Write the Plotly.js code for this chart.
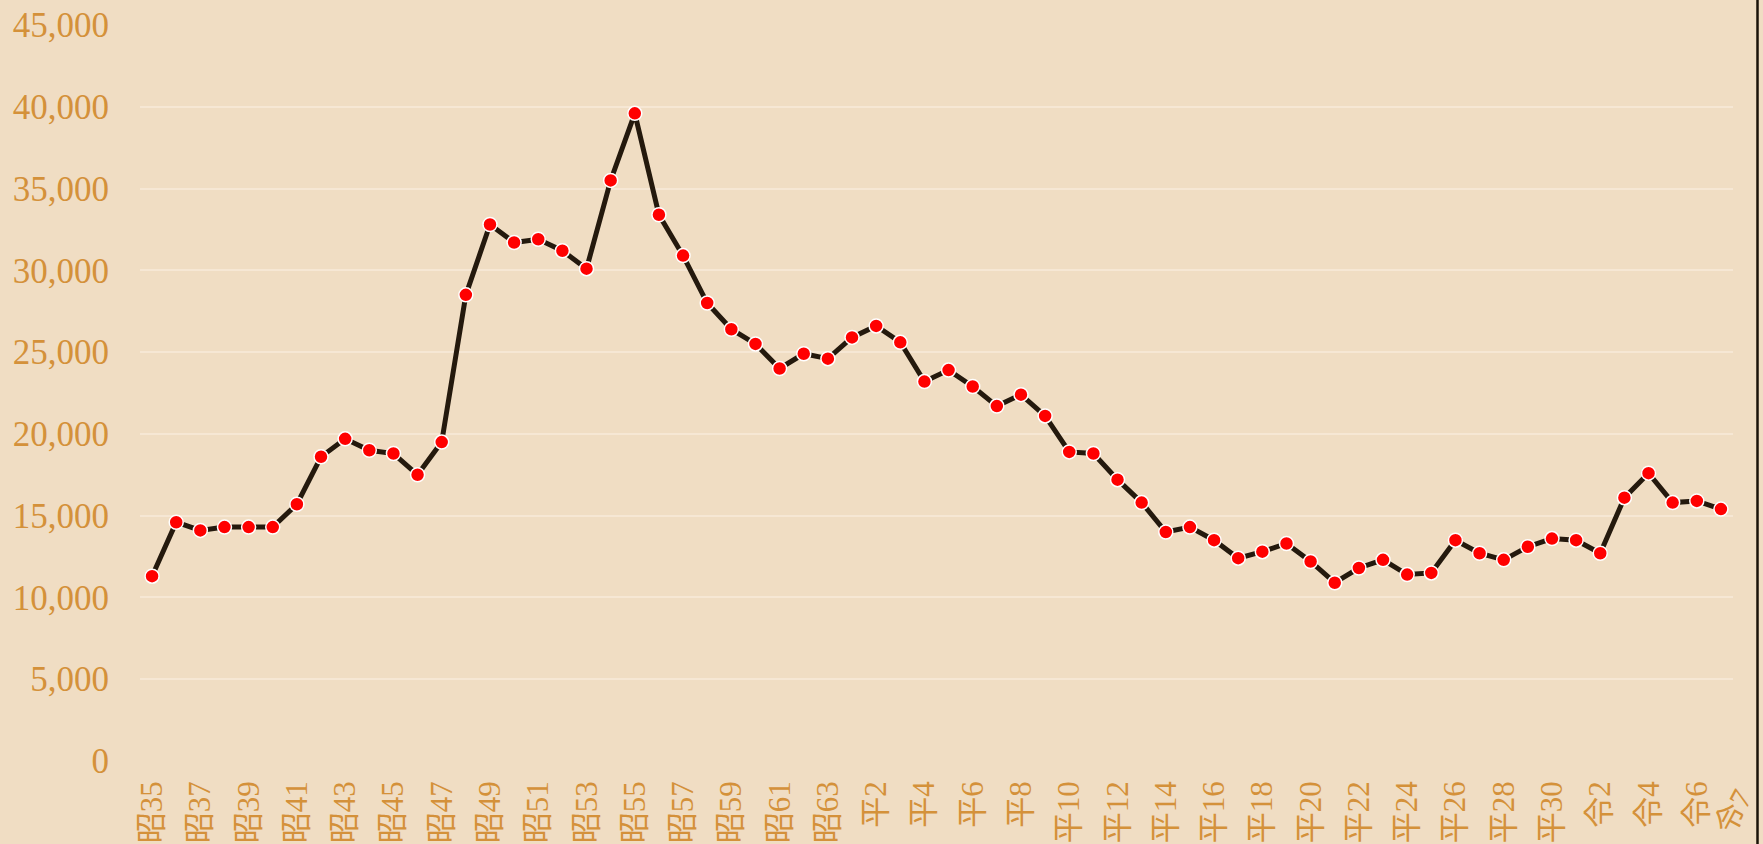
<!DOCTYPE html>
<html>
<head>
<meta charset="utf-8">
<script src="https://cdn.plot.ly/plotly-3.0.1.min.js"></script>
<style>
html,body{margin:0;padding:0;background:#F0DDC3;}
#chart{width:1763px;height:844px;}
</style>
</head>
<body>
<div id="chart"></div>
<script>
const years = [
  '昭35','昭36','昭37','昭38','昭39','昭40','昭41','昭42','昭43','昭44',
  '昭45','昭46','昭47','昭48','昭49','昭50','昭51','昭52','昭53','昭54',
  '昭55','昭56','昭57','昭58','昭59','昭60','昭61','昭62','昭63',
  '平1','平2','平3','平4','平5','平6','平7','平8','平9','平10',
  '平11','平12','平13','平14','平15','平16','平17','平18','平19','平20',
  '平21','平22','平23','平24','平25','平26','平27','平28','平29','平30',
  '令1','令2','令3','令4','令5','令6','令7'
];
const values = [
  11300,14600,14100,14300,14300,14300,15700,18600,19700,19000,
  18800,17500,19500,28500,32800,31700,31900,31200,30100,35500,
  39600,33400,30900,28000,26400,25500,24000,24900,24600,
  25900,26600,25600,23200,23900,22900,21700,22400,21100,18900,
  18800,17200,15800,14000,14300,13500,12400,12800,13300,12200,
  10900,11800,12300,11400,11500,13500,12700,12300,13100,13600,
  13500,12700,16100,17600,15800,15900,15400
];
const tickLabels = [
  '昭35','昭37','昭39','昭41','昭43','昭45','昭47','昭49','昭51','昭53',
  '昭55','昭57','昭59','昭61','昭63','平2','平4','平6','平8','平10',
  '平12','平14','平16','平18','平20','平22','平24','平26','平28','平30',
  '令2','令4','令6'
];
const lastLabel = '令7';
const yTicks = [0,5000,10000,15000,20000,25000,30000,35000,40000,45000];

const labelColor = '#D4913A';
const fontFam = '"Liberation Serif", "Noto Sans CJK JP", serif';

const trace = {
  type: 'scatter',
  mode: 'lines+markers',
  x: years,
  y: values,
  line: {color: '#24190D', width: 5},
  marker: {color: '#FF0000', size: 14, line: {color: '#FFFFFF', width: 1.5}},
  hoverinfo: 'x+y'
};

const layout = {
  width: 1763,
  height: 844,
  paper_bgcolor: '#F0DDC3',
  plot_bgcolor: '#F0DDC3',
  margin: {l: 140, r: 30, t: 25, b: 83},
  showlegend: false,
  xaxis: {
    type: 'category',
    range: [-0.5, years.length - 0.5],
    tickmode: 'array',
    tickvals: tickLabels,
    ticktext: tickLabels,
    tickangle: -90,
    tickfont: {family: fontFam, size: 31, color: labelColor},
    ticklabelstandoff: 13,
    showgrid: false,
    zeroline: false,
    showline: false,
    ticks: ''
  },
  yaxis: {
    range: [0, 45000],
    tickmode: 'array',
    tickvals: yTicks,
    tickformat: ',d',
    tickfont: {family: fontFam, size: 35, color: labelColor},
    ticklabelstandoff: 30,
    showgrid: true,
    gridcolor: '#F6E7D4',
    gridwidth: 2,
    zeroline: false,
    showline: false,
    ticks: ''
  },
  annotations: [{
    x: lastLabel,
    y: 0,
    xref: 'x',
    yref: 'paper',
    xanchor: 'center',
    yanchor: 'middle',
    text: lastLabel,
    showarrow: false,
    textangle: -62,
    xshift: 12,
    yshift: -50,
    font: {family: fontFam, size: 30, color: labelColor}
  }],
  shapes: [{
    type: 'line',
    xref: 'paper',
    yref: 'paper',
    x0: (1757.5 - 140) / 1593,
    x1: (1757.5 - 140) / 1593,
    y0: -0.12,
    y1: 1.04,
    line: {color: '#1A1208', width: 2.5}
  }]
};

Plotly.newPlot('chart', [trace], layout, {displayModeBar: false, staticPlot: true});
</script>
</body>
</html>
